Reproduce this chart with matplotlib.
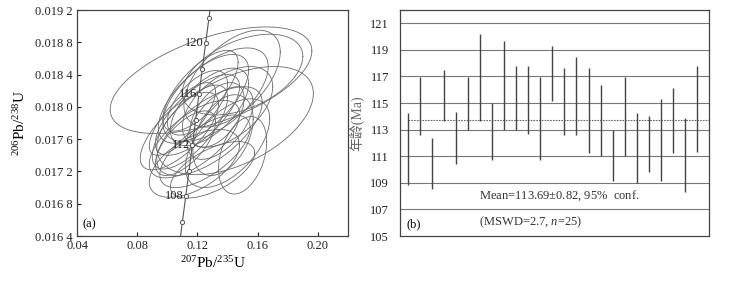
import numpy as np
import matplotlib
matplotlib.use("Agg")
import matplotlib.pyplot as plt

plt.rcParams['font.family'] = ['Liberation Serif', 'Noto Sans CJK SC', 'DejaVu Sans']
plt.rcParams['mathtext.fontset'] = 'custom'
plt.rcParams['mathtext.rm'] = 'Liberation Serif'
plt.rcParams['mathtext.it'] = 'Liberation Serif:italic'

# concordia markers (every 2 Ma)
conc_age = [104, 106, 108, 110, 112, 114, 116, 118, 120, 122, 124]
conc_x = [0.10785, 0.11003, 0.11223, 0.11443, 0.11664, 0.11883, 0.12103, 0.12324, 0.12545, 0.12767, 0.12990]
conc_y = [0.016264, 0.016579, 0.016895, 0.017210, 0.017526, 0.017841, 0.018157, 0.018473, 0.018789, 0.019106, 0.019422]
conc_labels = [108, 112, 116, 120]

# error ellipses: centre, half widths, correlation
ell_cx = [0.129, 0.145, 0.143, 0.150, 0.124, 0.120, 0.128, 0.115, 0.132, 0.118, 0.135, 0.110, 0.125,
          0.130, 0.150, 0.137, 0.122, 0.140, 0.112, 0.128, 0.118, 0.133, 0.120, 0.140, 0.108]
ell_cy = [0.01833, 0.01783, 0.01835, 0.01840, 0.01810, 0.01790, 0.01800, 0.01775, 0.01815, 0.01760, 0.01780, 0.01785, 0.01745,
          0.01722, 0.01740, 0.01765, 0.01820, 0.01800, 0.01755, 0.01770, 0.01730, 0.01790, 0.01805, 0.01755, 0.01770]
ell_sx = [0.067, 0.052, 0.032, 0.040, 0.030, 0.028, 0.026, 0.025, 0.035, 0.030, 0.022, 0.022, 0.030,
          0.028, 0.016, 0.020, 0.025, 0.030, 0.020, 0.035, 0.030, 0.018, 0.020, 0.028, 0.026]
ell_sy = [0.00066, 0.00067, 0.00060, 0.00050, 0.00055, 0.00050, 0.00048, 0.00052, 0.00058, 0.00048, 0.00045, 0.00045, 0.00045,
          0.00035, 0.00048, 0.00050, 0.00050, 0.00050, 0.00040, 0.00055, 0.00042, 0.00040, 0.00040, 0.00055, 0.00048]
ell_rho = [0.55, 0.50, 0.55, 0.45, 0.65, 0.70, 0.60, 0.70, 0.60, 0.65, 0.55, 0.75, 0.65,
           0.60, 0.35, 0.40, 0.70, 0.50, 0.65, 0.65, 0.55, 0.50, 0.60, 0.55, 0.70]

# panel (b) age bars, Ma
age_lo = [108.8, 112.6, 108.5, 113.64, 110.4, 113.0, 113.64, 110.75, 113.0, 113.0, 112.67, 110.75, 115.12,
          112.6, 112.57, 111.24, 111.0, 109.15, 111.0, 109.0, 109.85, 109.15, 111.24, 108.32, 111.32]
age_hi = [114.24, 116.97, 112.35, 117.47, 114.35, 116.97, 120.2, 114.97, 119.69, 117.8, 117.8, 116.97, 119.27,
          117.62, 118.44, 117.64, 116.34, 112.95, 116.97, 114.27, 114.0, 115.27, 116.1, 113.85, 117.8]
mean_age = 113.69

fig = plt.figure(figsize=(7.30, 2.81), dpi=100)
ax1 = fig.add_axes([0.1055, 0.1601, 0.3712, 0.8043])
ax2 = fig.add_axes([0.5479, 0.1601, 0.4233, 0.8043])

line_c = '#555555'

# ---- panel (a)
t = np.linspace(0, 2 * np.pi, 200)
for cx, cy, sx, sy, r in zip(ell_cx, ell_cy, ell_sx, ell_sy, ell_rho):
    ex = cx + sx * np.cos(t)
    ey = cy + sy * (r * np.cos(t) + np.sqrt(1 - r ** 2) * np.sin(t))
    ax1.plot(ex, ey, color='#6a6a6a', lw=0.6)

ax1.plot(conc_x, conc_y, color=line_c, lw=0.8)
ax1.plot(conc_x, conc_y, 'o', ms=3, mfc='white', mec=line_c, mew=0.7)
for a, x, y in zip(conc_age, conc_x, conc_y):
    if a in conc_labels:
        ax1.text(x - 0.0012, y, str(a), ha='right', va='center', fontsize=9, color='#222222')

ax1.set_xlim(0.04, 0.22)
ax1.set_ylim(0.0164, 0.0192)
ax1.set_xticks([0.04, 0.08, 0.12, 0.16, 0.20])
ax1.set_xticklabels(['0.04', '0.08', '0.12', '0.16', '0.20'])
yt = [0.0164, 0.0168, 0.0172, 0.0176, 0.0180, 0.0184, 0.0188, 0.0192]
ax1.set_yticks(yt)
ax1.set_yticklabels(['0.016 4', '0.016 8', '0.017 2', '0.017 6', '0.018 0', '0.018 4', '0.018 8', '0.019 2'])
ax1.tick_params(direction='in', length=3, labelsize=9, pad=3, colors='#222222')
ax1.set_xlabel(r'$^{207}$Pb/$^{235}$U', fontsize=11, labelpad=2)
ax1.set_ylabel(r'$^{206}$Pb/$^{238}$U', fontsize=11, labelpad=5)
ax1.text(0.02, 0.04, '(a)', transform=ax1.transAxes, fontsize=9)

# ---- panel (b)
xs = np.arange(1, len(age_lo) + 1)
for g in range(107, 122, 2):
    ax2.axhline(g, color='#777777', lw=0.8, zorder=1)
ax2.plot([xs[0], 26.0], [mean_age, mean_age], color='#666666', lw=0.8, ls=(0, (1.5, 1)), zorder=2)
ax2.vlines(xs, age_lo, age_hi, color='#444444', lw=1.0, zorder=3)
ax2.set_xlim(0.35, 26.0)
ax2.set_ylim(105, 122)
ax2.set_xticks([])
ax2.set_yticks(range(105, 122, 2))
ax2.tick_params(axis='y', length=0, labelsize=9, pad=8, colors='#222222')
ax2.set_ylabel('年龄(Ma)', fontsize=10, color='#666666', labelpad=4,
               family=['Liberation Serif', 'Noto Sans CJK SC', 'DejaVu Sans'])
ax2.text(6.9, 108.0, 'Mean=113.69$\\pm$0.82, 95%  conf.', fontsize=9, va='center', color='#333333')
ax2.text(6.9, 106.0, '(MSWD=2.7, $n$=25)', fontsize=9, va='center', color='#333333')
ax2.text(0.02, 0.04, '(b)', transform=ax2.transAxes, fontsize=9)

for ax in (ax1, ax2):
    for s in ax.spines.values():
        s.set_color('#444444')
        s.set_linewidth(0.9)

fig.savefig('out.png', dpi=100)
